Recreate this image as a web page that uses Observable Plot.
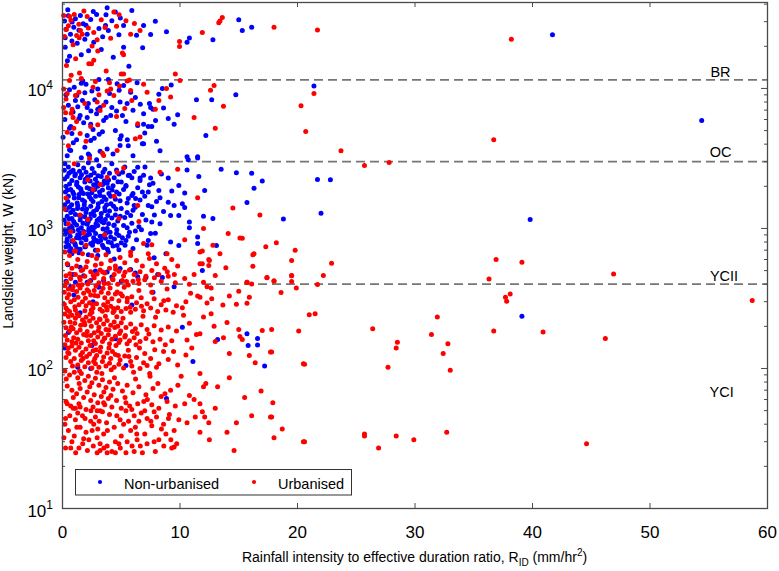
<!DOCTYPE html>
<html><head><meta charset="utf-8">
<script src="https://cdn.jsdelivr.net/npm/d3@7"></script>
<script src="https://cdn.jsdelivr.net/npm/@observablehq/plot@0.6"></script>
<style>
body{margin:0;background:#fff;}
svg{font-family:"Liberation Sans",Arial,sans-serif;}
</style>
</head><body><div id="chart"></div>
<script>
// ---------- axis / label data ----------
const xTicks = [0, 10, 20, 30, 40, 50, 60];
const yTicks = [10, 100, 1000, 10000];
const yExponents = ["1", "2", "3", "4"];
const yMinorTicks = [20,30,40,50,60,70,80,90,200,300,400,500,600,700,800,900,2000,3000,4000,5000,6000,7000,8000,9000,20000,30000,40000];
const thresholdW = [11500, 3000, 400];
const classNames = ["BR", "OC", "YCII", "YCI"];
const classLabelW = [13000, 3510, 456, 67];
const classLabelX = [56, 56, 56.3, 56.1];
const seriesNames = ["Non-urbanised", "Urbanised"];

// ---------- Non-urbanised [R_ID, W] ----------
const nonUrbTop = [[0.45,36500],[3.8,37700],[3.7,33600],[0.17,30300],[0.96,27400],[1.76,29000],[2.4,31100],[4.5,35100],[3.66,28200],[5.2,28200],[3.9,25900],[4.8,24200],[6.9,28200],[7.5,24300],[8.85,25400],[0.68,24400],[0.23,23000],[2.1,24400],[2.66,21400],[1.25,21000],[0.23,19700],[1.6,17400],[5.2,19700],[5.65,14400],[10.6,21400],[10.8,22900],[12.8,22300],[15.0,30900],[15.3,25900],[16.1,27400],[0.5,33000],[1.1,31500],[1.4,26000],[2.0,28300],[0.8,21800],[1.9,22500],[3.1,26800],[4.2,30500],[0.3,26500],[2.9,33800],[0.6,17000],[5.9,36000],[6.3,24000],[3.3,19000],[7.9,30200],[41.7,24200],[21.4,10400],
[0.82,29800],[2.62,35400],[1.52,33200],[4.92,31800],[3.42,23400],[0.42,15800],[2.22,18600],[4.32,16700],[6.82,19500]];
const nonUrbMid = [[3.1,11600],[3.9,11600],[1.6,10900],[0.6,9800],[1.1,8200],[1.7,8200],[2.2,7800],[2.75,8300],[3.2,7300],[3.7,8000],[4.2,7300],[4.9,8000],[5.5,7800],[6.0,7000],[6.9,6600],[7.4,7800],[7.7,7100],[8.6,7250],[9.5,5550],[11.4,8300],[14.75,9000],[12.2,4620],[1.5,6420],[1.4,6100],[2.1,6200],[2.4,5550],[0.7,5350],[0.8,4760],[0.05,4480],[2.1,7300],[3.0,7100],[4.1,6420],[5.1,6420],[6.9,5550],[7.3,5350],[7.6,5350],[6.4,5440],[6.9,4030],[0.7,3610],[3.8,3700],[3.2,3560],[2.3,3320],[10.6,3250],[11.5,3250],[9.25,10600],[8.5,10000],[4.65,10800],[5.2,10500],[6.35,11000],[12.7,8300],[9.8,6480],[7.5,7300],[0.3,9000],[0.5,7600],[0.9,6800],[1.3,7400],[1.9,9300],[2.5,9600],[2.9,6600],[3.5,5900],[4.0,9200],[4.5,5000],[5.0,4600],[5.8,9400],[6.2,8600],[0.2,6000],[0.6,5200],[1.2,4300],[1.9,3800],[2.7,4400],[3.4,4900],[4.3,3400],[5.6,3900],[6.0,3300],[7.0,4800],[8.0,4200],[1.6,3200],[2.9,3100],[0.4,3300],[1.0,10200],[2.0,10700],[3.0,9900],[2.6,5100],[1.8,5700],[4.6,6900],[5.4,5800],[8.2,9100],[9.0,6100],[8.3,3590],[6.8,4030],[4.9,4350],[4.9,3920],[2.2,3400],[0.6,3650],[2.4,4250],[2.1,4620],[54.4,5900],
[1.22,8900],[2.42,6900],[3.72,6200],[4.82,9700],[0.92,4100],[3.12,4700],[5.52,4300],[6.62,7700],[7.92,5900],[1.72,11300]];
const nonUrbCore = [[10.7,3100],[11.5,3180],[10.6,2620],[14.8,2500],[16.1,2480],[16.3,1940],[15.7,1530],[12.1,1870],[12.0,1220],[10.8,1110],[10.4,1410],[10.4,1790],[9.9,2030],[9.0,2290],[8.2,1870],[8.3,1660],[9.0,1540],[9.5,1460],[9.2,1240],[9.9,1240],[7.9,925],[7.3,821],[9.9,756],[9.2,800],[11.5,870],[11.5,780],[13.1,756],[7.6,1430],[7.3,1460],[6.8,1820],[7.5,2290],[6.6,2290],[6.4,2740],[5.6,2390],[5.4,2030],[5.9,1720],[6.1,1460],[5.8,1240],[5.5,1010],[5.4,821],[4.8,891],[4.65,756],[4.37,1050],
[0.2,2900],[0.5,2750],[0.9,2600],[1.3,2850],[1.8,2700],[2.2,2950],[2.7,2500],[3.1,2800],[3.6,2650],[4.2,2900],[4.8,2450],[5.3,2750],[6.1,2550],[0.4,2350],[0.8,2200],[1.1,2450],[1.5,2300],[1.9,2150],[2.4,2400],[2.8,2250],[3.3,2350],[3.8,2100],[4.4,2300],[5.0,2150],[5.7,2400],[6.6,2200],[7.4,2050],[0.3,2000],[0.7,1900],[1.2,2050],[1.6,1850],[2.1,1950],[2.5,1800],[3.0,2000],[3.4,1880],[3.9,1950],[4.6,1820],[5.2,1900],[6.0,1780],[0.5,1700],[1.0,1650],[1.4,1750],[1.7,1600],[2.3,1680],[2.6,1560],[3.2,1720],[3.7,1610],[4.1,1700],[4.9,1580],[5.6,1640],[7.0,1700],[8.0,1560],
[0.2,1480],[0.6,1420],[0.9,1350],[1.3,1450],[1.7,1380],[2.0,1300],[2.4,1440],[2.9,1360],[3.3,1280],[3.6,1410],[4.0,1330],[4.5,1250],[5.0,1390],[5.5,1300],[6.2,1420],[6.8,1260],[0.4,1220],[0.8,1180],[1.1,1260],[1.5,1150],[1.9,1210],[2.2,1120],[2.7,1240],[3.1,1170],[3.5,1100],[4.2,1190],[4.7,1130],[5.3,1200],[5.9,1090],[0.3,1080],[0.7,1040],[1.2,1060],[1.6,1010],[2.1,1070],[2.5,1020],[3.0,1050],[3.8,1000],[4.4,1060],[6.5,1030],[7.6,1110],
[0.2,980],[0.5,940],[0.9,960],[1.3,900],[1.8,950],[2.3,910],[2.6,970],[3.2,880],[3.7,930],[4.1,870],[4.6,920],[5.1,860],[5.7,940],[0.4,840],[0.8,810],[1.2,860],[1.6,790],[2.0,830],[2.4,780],[2.9,820],[3.4,760],[3.9,800],[4.3,750],[5.0,790],[6.3,830],[0.3,740],[0.7,720],[1.1,760],[1.5,710],[1.9,740],[2.8,700],[3.5,730],[4.8,705],[6.0,720],[7.2,760],
[0.15,2600],[0.55,2480],[1.05,2380],[1.45,2560],[2.0,2520],[2.35,2180],[2.95,2120],[3.45,2520],[4.0,2480],[4.6,2620],[0.6,2080],[1.35,1980],[1.95,2250],[2.65,2050],[3.15,1820],[3.55,2180],[4.3,2020],[0.25,1820],[0.95,1760],[1.55,1920],[2.15,1760],[2.75,1900],[3.35,1560],[3.95,1780],[4.5,1620],[0.45,1560],[1.25,1520],[1.85,1480],[2.45,1620],[3.05,1500],[3.75,1480],[4.35,1440],[0.7,1300],[1.45,1240],[2.05,1380],[2.65,1320],[3.25,1200],[3.85,1240],[4.55,1380],[0.15,1150],[0.95,1120],[1.75,1090],[2.35,1180],[2.95,1140],[3.65,1160],[0.55,1000],[1.35,980],[2.25,1000],[2.85,1080],[3.45,990],[4.05,940],[0.65,880],[1.45,850],[2.05,890],[2.65,860],[3.05,800],[3.65,850],[0.35,800],[1.05,780],[1.95,740],[2.55,760],[3.25,820],[4.15,790],[5.4,2000],[5.9,2300],[6.4,1950],[6.9,2400],[7.3,1820],[7.7,2100],[5.5,1520],[6.0,1350],[6.6,1600],[7.1,1150],[5.2,1050],[5.6,880],[6.2,960],[7.5,920],[8.3,1080],[8.6,1320],[9.3,1850],[10.2,1500],[10.8,1010],[11.6,2350],[12.8,1180],[13.5,2650],
[0.18,2260],[0.72,2540],[1.22,2140],[1.62,2420],[2.12,2320],[2.52,2680],[3.02,2380],[3.42,2060],[3.92,2220],[4.72,2160],[5.12,2520],[0.42,1880],[0.88,1820],[1.38,1660],[1.78,1780],[2.32,1920],[2.82,1700],[3.52,1680],[4.22,1880],[4.82,1760],[0.32,1360],[0.78,1480],[1.28,1390],[1.88,1560],[2.42,1270],[3.02,1420],[3.62,1340],[4.12,1500],[4.92,1220],[0.58,1170],[1.02,1090],[1.62,1220],[2.12,1140],[2.72,1020],[3.32,1120],[3.92,1080],[4.62,980],[0.22,910],[0.82,1010],[1.52,920],[2.22,960],[2.82,920],[3.42,880],[4.42,840],[5.32,760],[0.52,760],[1.22,720],[1.82,860],[2.62,800],[3.82,710],[6.72,980],[7.82,1250],[6.22,1640],[8.42,2450],[7.02,2750],
[17.0,2180],[21.7,2240],[22.8,2230],[22.0,1285],[18.8,1170],[39.8,1160]];
const nonUrbLow = [[0.6,690],[1.4,670],[2.2,650],[3.9,680],[0.8,660],[3.0,642],[4.4,606],[0.45,550],[1.5,529],[2.8,497],[3.8,488],[4.9,518],[5.8,510],[6.4,452],[7.1,446],[8.1,470],[8.5,446],[8.8,660],[7.8,617],[1.1,413],[0.7,384],[2.1,413],[2.4,425],[3.5,425],[7.7,351],[9.5,384],[11.9,501],[0.97,335],[4.5,163],[10.2,197],[11.1,112],[5.4,105],[1.3,102],[0.5,181],[15.7,177],[15.8,146],[2.4,100],[8.85,61],[2.5,146],[13.2,161],[5.9,284],[16.6,164],[16.6,147],[17.2,104],[39.1,236],[0.3,420],[1.8,460],[3.1,380],[4.2,450],[0.9,470],[2.6,300],[1.5,250],[0.2,140],[6.2,480],[5.0,420]];

// ---------- Urbanised [R_ID, W] ----------
const urbTop = [[0.1,33200],[0.6,32700],[2.1,32700],[4.37,35100],[1.39,28700],[1.53,25900],[1.68,24400],[2.66,25100],[0.17,23500],[1.42,23000],[2.95,22300],[4.6,27800],[5.8,24400],[6.6,25900],[5.1,17900],[5.2,17400],[2.66,15900],[2.47,15000],[0.34,14600],[9.96,21600],[9.96,19900],[11.9,25100],[13.3,29500],[13.6,32100],[13.4,30300],[18.0,27400],[21.7,26200],[38.2,22500],[1.0,33800],[3.3,30900],[0.9,20500],[2.2,27000],[1.2,23900],[4.1,22800],[5.4,30400],[2.24,15000],[0.5,28000],[3.0,18500],
[0.72,30700],[1.82,35800],[3.62,27200],[2.52,20100],[4.82,33600],[0.32,26400],[6.12,29100],[1.12,16300],[3.72,13300]];
const urbMid = [[9.6,12700],[5.0,12700],[5.7,11500],[0.1,9900],[0.6,11400],[0.74,12400],[1.45,12900],[1.6,11800],[0.4,9200],[0.1,7300],[0.26,6700],[0.74,6650],[0.82,7100],[1.4,9400],[3.1,9000],[2.95,8000],[3.2,6970],[3.8,9600],[4.1,9900],[4.37,8900],[4.85,10400],[5.2,12700],[5.5,11300],[5.8,9680],[5.9,8200],[6.2,4380],[6.6,4500],[3.4,3440],[0.4,4870],[1.5,4760],[2.4,5350],[1.1,8900],[8.85,10000],[10.0,11400],[12.6,9700],[12.9,10500],[13.7,7450],[8.2,8200],[0.96,5200],[4.65,3610],[3.5,3320],[2.3,3160],[21.4,9200],[20.3,7520],[20.7,4930],[23.7,3590],[25.7,2820],[27.8,2960],[36.7,4300],[0.3,8400],[0.9,6200],[1.9,7800],[2.6,10200],[3.5,7600],[4.6,6300],[5.3,7200],[6.4,5600],[7.2,9400],[1.2,5800],[2.0,4200],[3.0,5500],[0.5,3900],[7.9,7100],[6.9,10700],[4.0,11000],[2.8,11200],[9.2,8700],[11.2,6200],[13.0,5200]];
const urbUpper = [[8.3,2520],[4.65,2520],[3.8,2320],[2.15,2230],[3.2,2060],[0.17,1380],[2.15,1160],[6.4,1460],[11.5,1660],[0.7,950],[1.8,930],[0.5,1080],[15.3,850],[6.9,780],[7.3,660],[5.8,680],[1.1,690],[8.9,660],[11.9,690],[13.4,660],[16.3,660],[15.1,855],[7.6,765],[11.7,560],[12.5,591],[15.7,413],[18.2,791],[19.5,591],[22.9,565],[36.9,601],[39.1,574],[0.3,1650],[1.0,2900],[2.6,1900],[4.4,1700],[5.2,2700],[0.9,820],[1.5,1250],[3.6,900],[4.8,1180],[2.0,760],[3.0,700],[6.5,1120],[9.8,2650],[12.0,1000],[14.5,1400],[16.8,1250],[10.4,830],[12.8,760],[14.1,920],[17.3,740],[19.8,700],[16.2,650],[11.7,680],[12.45,600],[11.9,560],[12.45,544],[13.9,525],[16.2,537]];
const urbCoreA = [[0.2,680],[0.6,640],[1.0,690],[1.3,600],[1.7,660],[2.1,580],[2.5,640],[2.9,610],[3.3,560],[3.7,650],[4.1,590],[4.5,540],[4.9,620],[5.3,570],[5.8,640],[6.3,590],[6.8,540],[7.4,610],[8.0,560],[8.7,520],[9.3,600],[9.8,540],[0.4,560],[0.8,520],[1.2,540],[1.6,500],[2.0,530],[2.4,490],[2.8,545],[3.2,505],[3.6,480],[4.0,520],[4.4,470],[4.8,495],[5.2,460],[5.7,505],[6.1,470],[6.6,490],[7.1,455],[7.6,500],[8.2,470],[9.0,455],[0.3,460],[0.7,440],[1.1,470],[1.5,430],[1.9,455],[2.3,420],[2.7,445],[3.1,410],[3.5,440],[3.9,405],[4.3,430],[4.7,400],[5.1,425],[5.6,395],[6.0,420],[6.5,405],[7.0,430],[7.5,395],[8.4,420],[9.6,410],[10.4,440],[11.2,470],[13.0,462],[17.4,444],[18.0,420],[19.5,462],[19.5,418],[22.2,462],[21.7,398],[19.9,375],[18.6,349],[15.7,413],[16.1,402],[12.0,413],[12.3,384],[12.65,375],[15.0,356],[14.2,330],[15.9,323],[36.3,436],[46.9,472],[17.4,447],[18.0,423],[19.5,460]];
const urbCoreB = [[0.2,390],[0.5,370],[0.9,385],[1.2,355],[1.5,375],[1.8,345],[2.1,365],[2.4,335],[2.7,360],[3.0,330],[3.3,350],[3.6,320],[3.9,345],[4.2,315],[4.5,340],[4.8,305],[5.1,330],[5.5,300],[5.9,325],[6.3,295],[6.7,320],[7.2,290],[7.8,315],[8.4,285],[9.0,310],[9.7,280],[10.5,300],[0.4,320],[0.7,300],[1.0,310],[1.4,285],[1.7,300],[2.0,280],[2.3,295],[2.6,270],[2.9,290],[3.2,265],[3.5,285],[3.8,262],[4.1,278],[4.4,258],[4.7,272],[5.0,255],[5.4,268],[5.8,252],[6.2,265],[6.9,258],[7.5,270],[8.1,255],[8.8,262],[0.3,270],[0.6,255],[1.1,262],[1.9,258],[2.5,252],[3.4,256],[4.3,251],[0.15,350],[1.35,395],[2.85,388],[4.05,375],[5.25,380],[6.5,360],[7.6,350],[8.9,370],[10.9,345],[11.5,330],[13.65,284],[12.3,294],[12.7,315],[14.8,287],[15.7,292],[37.7,323],[38.1,340],[37.8,302],[58.7,306],[11.7,323]];
const urbCoreC = [[0.2,245],[0.5,235],[0.8,240],[1.1,228],[1.4,238],[1.7,222],[2.0,232],[2.3,218],[2.6,228],[2.9,212],[3.2,224],[3.5,208],[3.8,220],[4.1,204],[4.4,215],[4.7,200],[5.0,212],[5.4,196],[5.8,208],[6.2,192],[6.7,205],[7.2,190],[7.8,202],[8.4,188],[9.0,198],[9.7,185],[0.3,195],[0.6,185],[0.9,192],[1.2,180],[1.5,188],[1.8,175],[2.1,184],[2.4,172],[2.7,180],[3.0,168],[3.3,178],[3.6,165],[3.9,174],[4.2,162],[4.5,170],[4.9,160],[5.3,168],[5.7,158],[6.1,166],[6.6,156],[7.1,164],[7.7,155],[8.3,162],[9.3,158],[0.4,160],[0.8,155],[1.3,162],[1.6,152],[2.2,158],[2.8,151],[3.4,156],[4.0,150],[4.8,153],[5.5,150],[10.3,240],[10.8,210],[11.4,175],[10.6,160],[1.05,210],[2.45,200],[3.7,190],[4.95,185],[6.35,178],[0.65,215],[1.9,205],[3.1,197],[21.0,242],[21.5,246],[12.0,233],[12.65,246],[14.0,213],[12.9,200],[15.0,190],[17.0,187],[17.8,190],[20.1,185],[15.1,169],[15.3,161],[13.7,166],[13.0,156],[26.4,192],[31.9,233],[31.4,175],[28.5,154],[28.4,140],[32.8,150],[36.7,185],[40.9,182],[46.2,164],[11.7,177]];
const urbCoreD = [[0.2,148],[0.5,140],[0.8,145],[1.1,135],[1.4,142],[1.7,130],[2.0,138],[2.3,127],[2.6,134],[2.9,124],[3.2,132],[3.5,121],[3.8,129],[4.1,118],[4.5,126],[4.9,115],[5.3,123],[5.8,112],[6.3,120],[6.9,110],[7.5,118],[8.2,108],[9.0,116],[9.8,106],[0.3,120],[0.7,112],[1.0,118],[1.3,106],[1.6,114],[1.9,103],[2.2,110],[2.5,101],[2.8,108],[3.1,102],[3.4,112],[3.7,104],[4.0,109],[4.4,102],[4.8,107],[5.2,101],[5.9,104],[6.6,100],[7.2,105],[8.0,102],[0.45,130],[1.55,125],[2.75,118],[3.95,140],[5.6,135],[7.0,128],[8.6,132],[10.5,125],[11.0,140],[14.2,128],[15.9,124],[16.4,110],[17.8,131],[20.5,108],[17.7,131],[20.6,107],[32.4,128],[27.7,102],[33.0,97]];
const urbCoreE = [[0.35,412],[0.85,365],[1.45,448],[1.95,318],[2.15,402],[2.55,286],[2.95,472],[3.45,374],[3.85,298],[4.25,436],[4.65,352],[5.45,418],[0.15,288],[0.55,338],[1.05,276],[1.65,396],[2.35,244],[2.75,332],[3.15,226],[3.55,404],[4.35,268],[4.95,342],[5.75,274],[6.45,432],[0.75,198],[1.25,246],[1.85,214],[2.45,262],[3.05,186],[3.65,236],[4.45,196],[5.15,228],[5.95,184],[6.85,236],[0.25,172],[0.95,166],[1.55,204],[2.05,172],[2.65,158],[3.25,142],[3.95,188],[4.55,146],[5.35,172],[6.25,148],[7.35,176],[0.55,128],[1.15,152],[1.75,118],[2.35,146],[2.85,136],[3.55,164],[4.25,132],[4.85,178],[5.65,122],[6.55,140],[7.85,136],[8.75,148],[0.85,104],[1.45,96],[2.05,122],[2.65,112],[3.35,92],[4.15,98],[4.75,124],[6.05,94],[7.45,88],[9.45,132],[0.12,214],[0.42,262],[1.32,322],[2.22,356],[3.72,276],[4.62,234],[5.52,318],[6.72,278],[7.92,232],[8.62,304],[9.42,252],[10.2,272],[0.62,475],[1.72,508],[2.62,462],[3.42,488],[4.52,512],[5.32,486],[7.82,445],[8.92,490],[9.52,470],[10.8,400]];
const urbLowA = [[0.2,96],[0.6,90],[1.0,94],[1.3,86],[1.6,92],[1.9,82],[2.2,88],[2.5,79],[2.8,85],[3.1,76],[3.4,83],[3.7,73],[4.0,80],[4.3,71],[4.7,78],[5.1,69],[5.5,76],[6.0,67],[6.5,74],[7.1,65],[7.7,72],[8.4,63],[9.2,70],[0.4,75],[0.8,70],[1.2,66],[1.5,72],[1.8,62],[2.1,68],[2.4,59],[2.7,65],[3.0,57],[3.3,63],[3.6,55],[3.9,61],[4.2,53],[4.6,59],[5.0,52],[5.4,57],[5.9,51],[6.4,56],[7.0,50],[7.6,55],[8.2,52],[8.9,58],[9.6,54],[0.3,58],[0.7,54],[1.1,52],[1.4,56],[2.0,51],[2.6,53],[3.2,50],[10.1,88],[10.8,64],[11.7,92],[12.2,78],[12.0,74],[13.2,74],[11.7,56],[17.9,57],[16.9,69],[14.2,86],[0.4,56],[1.5,53],[3.5,57],[2.95,50],
[0.32,84],[0.92,62],[1.42,78],[2.32,74],[2.92,94],[3.52,68],[4.42,86],[5.32,62],[6.22,84],[6.92,58],[7.42,92],[8.12,78],[8.72,66],[9.82,76],[0.92,52],[2.42,50],[4.12,64],[5.72,54],[7.22,60],[10.4,56],[11.2,60],[13.0,52],[15.5,62]];
const urbLowB = [[0.26,44],[1.1,43],[1.7,46],[2.66,40],[3.75,41],[4.4,38],[4.9,43],[5.4,50],[6.1,46],[6.2,38],[7.2,44],[7.8,49],[7.6,39],[8.6,40],[8.8,34],[9.5,36],[9.9,43],[10.6,41],[11.3,45],[11.7,35],[12.45,41],[14.0,35],[14.6,26],[16.1,46],[17.8,45],[18.7,37],[18.0,32],[20.5,30],[17.7,45],[12.5,31],[12.1,45],
[0.26,27],[0.7,27],[1.4,27],[0.8,30],[2.24,31],[2.95,25],[3.2,26],[3.8,25],[4.2,25.5],[4.5,25],[5.4,25],[6.1,25.5],[6.8,25],[7.9,25.5],[9.3,27],[9.5,27.5],[3.2,29],[3.8,28],[4.8,29],[5.5,30],[6.35,31],[7.2,29],[7.8,30],[1.8,31.5],[2.95,32],[4.5,30],[0.5,36],[1.0,33],[1.5,38],[2.0,35],[2.4,42],[3.0,37],[3.5,34],[4.0,47],[5.0,33],[5.8,36],[6.5,42],[7.0,34],[8.2,31],[8.0,45],[0.2,40],[1.3,48],[2.8,45],[3.4,49],[5.2,40],[6.7,48],[9.1,47],
[0.62,46],[1.22,38],[1.92,44],[2.52,36],[3.12,42],[3.82,36],[4.62,46],[5.62,42],[6.32,34],[7.52,42],[8.42,37],[9.22,31],[0.12,32],[1.72,29],[2.62,28],[3.52,27],[4.92,27],[5.92,28],[6.62,28],[8.62,28],[9.72,29],[1.12,25],[2.12,26],[9.02,44],[11.9,49],[14.8,41],
[25.7,34],[25.7,33],[28.4,33],[26.9,27],[29.9,31],[32.7,35],[44.6,29],[20.6,30]];

const nonUrbanised = [].concat(nonUrbTop, nonUrbMid, nonUrbCore, nonUrbLow);
const urbanised = [].concat(urbTop, urbMid, urbUpper, urbCoreA, urbCoreB, urbCoreC, urbCoreD, urbCoreE, urbLowA, urbLowB);

// ---------- layout ----------
const W = 779, H = 571, mL = 62, mR = 12, mT = 2, mB = 63;
const pw = W - mL - mR, ph = H - mT - mB;
const axisColor = "#4a4a4a";

const chart = Plot.plot({
  width: W, height: H,
  marginLeft: mL, marginRight: mR, marginTop: mT, marginBottom: mB,
  style: {fontFamily: '"Liberation Sans", Arial, sans-serif', fontSize: "17px", background: "#fff", color: "#000", overflow: "visible"},
  x: {domain: [0, 60], axis: null},
  y: {type: "log", domain: [10, 41100], axis: null},
  marks: [
    Plot.ruleY(thresholdW, {stroke: "#757575", strokeWidth: 1.7, strokeDasharray: "9,5"}),
    Plot.dot(nonUrbanised, {x: d => d[0], y: d => d[1], r: 2.5, fill: "#0000ff", stroke: null}),
    Plot.dot(urbanised, {x: d => d[0], y: d => d[1], r: 2.5, fill: "#ff0000", stroke: null}),
    Plot.text(classNames, {x: (d, i) => classLabelX[i], y: (d, i) => classLabelW[i], text: d => d, fontSize: 14.5, fill: "#000"}),
    // major / minor ticks pointing inward, on all four sides
    Plot.ruleX(xTicks, {insetTop: ph - 5, stroke: axisColor}),
    Plot.ruleX(xTicks, {insetBottom: ph - 5, stroke: axisColor}),
    Plot.ruleY(yTicks, {insetRight: pw - 6, stroke: axisColor}),
    Plot.ruleY(yTicks, {insetLeft: pw - 6, stroke: axisColor}),
    Plot.ruleY(yMinorTicks, {insetRight: pw - 3, stroke: axisColor}),
    Plot.ruleY(yMinorTicks, {insetLeft: pw - 3, stroke: axisColor}),
    Plot.axisX({ticks: xTicks, tickSize: 0, tickPadding: 17, label: null, fontSize: 17}),
    Plot.frame({stroke: axisColor, strokeWidth: 1.3})
  ]
});

const svg = d3.select(chart);
const ys = chart.scale("y");

// y tick labels 10^n with superscript
yTicks.forEach((v, i) => {
  const t = svg.append("text")
    .attr("x", mL - 9).attr("y", ys.apply(v) + 8.5)
    .attr("text-anchor", "end").attr("font-size", 17).attr("fill", "#000");
  t.append("tspan").text("10");
  t.append("tspan").attr("dy", -7.5).attr("font-size", 12).text(yExponents[i]);
});

// axis titles
const xl = svg.append("text").attr("x", (mL + W - mR) / 2).attr("y", 562)
  .attr("text-anchor", "middle").attr("font-size", 14).attr("fill", "#000");
xl.append("tspan").text("Rainfall intensity to effective duration ratio, R");
xl.append("tspan").attr("dy", 4).attr("font-size", 10).text("ID");
xl.append("tspan").attr("dy", -4).text(" (mm/hr");
xl.append("tspan").attr("dy", -6).attr("font-size", 10).text("2");
xl.append("tspan").attr("dy", 6).text(")");

svg.append("text").attr("transform", `translate(13,${(mT + H - mB) / 2 - 4}) rotate(-90)`)
  .attr("text-anchor", "middle").attr("font-size", 14).attr("fill", "#000")
  .text("Landslide weight, W (kN)");

// legend box
const lg = svg.append("g");
lg.append("rect").attr("x", 75.5).attr("y", 469.5).attr("width", 276).attr("height", 25.5)
  .attr("fill", "#fff").attr("stroke", "#333").attr("stroke-width", 1);
lg.append("circle").attr("cx", 100).attr("cy", 482).attr("r", 2.1).attr("fill", "#0000ff");
lg.append("text").attr("x", 124).attr("y", 489).attr("text-anchor", "start").attr("font-size", 14.5).attr("fill", "#000").text(seriesNames[0]);
lg.append("circle").attr("cx", 254).attr("cy", 482).attr("r", 2.1).attr("fill", "#ff0000");
lg.append("text").attr("x", 278).attr("y", 489).attr("text-anchor", "start").attr("font-size", 14.5).attr("fill", "#000").text(seriesNames[1]);

document.getElementById("chart").appendChild(chart);
</script>
</body></html>
